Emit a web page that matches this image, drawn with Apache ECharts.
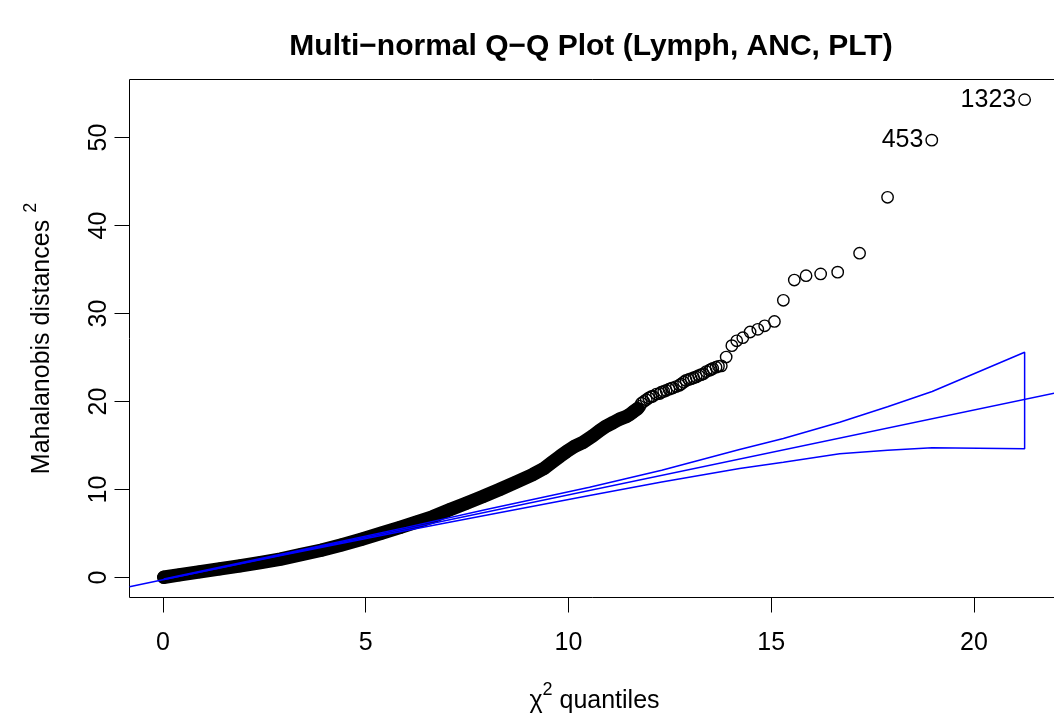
<!DOCTYPE html>
<html>
<head>
<meta charset="utf-8">
<title>Multi-normal Q-Q Plot</title>
<script src="https://cdn.jsdelivr.net/npm/echarts@6/dist/echarts.min.js"></script>
<style>
  html, body { margin: 0; padding: 0; background: #fff; }
  #chart { width: 1054px; height: 720px; }
</style>
</head>
<body>
<div id="chart"></div>
<script>
// sorted squared Mahalanobis distances vs chi-square quantiles
var qqX = [0.02, 0.4, 0.9, 1.4, 1.9, 2.4, 2.9, 3.4, 3.9, 4.4, 4.9, 5.4, 5.85, 6.25, 6.65, 7.07, 7.48, 7.89, 8.3, 8.71,
  9.12, 9.4, 9.6, 9.8, 9.95, 10.15, 10.36, 10.6, 10.77, 10.93, 11.1, 11.26, 11.43, 11.52, 11.59, 11.65, 11.71, 11.76, 11.8, 11.86,
  11.92, 11.98, 12.04, 12.08, 12.17, 12.25, 12.29, 12.35, 12.41, 12.48, 12.54, 12.57, 12.66, 12.74, 12.78, 12.84, 12.9, 12.97, 13.03, 13.09,
  13.15, 13.21, 13.27, 13.33, 13.4, 13.48, 13.52, 13.56, 13.64, 13.7, 13.77, 13.89, 14.03, 14.15, 14.3, 14.48, 14.67, 14.84, 15.08, 15.3,
  15.57, 15.86, 16.22, 16.64, 17.18, 17.87, 18.96, 21.25];
var qqY = [0.03, 0.3, 0.65, 0.98, 1.32, 1.7, 2.1, 2.6, 3.1, 3.7, 4.35, 5.05, 5.7, 6.3, 6.9, 7.7, 8.45, 9.2, 10.0, 10.85,
  11.7, 12.4, 13.1, 13.8, 14.3, 14.9, 15.35, 16.1, 16.7, 17.2, 17.6, 18.0, 18.3, 18.55, 18.8, 19.0, 19.2, 19.45, 19.8, 20.0,
  20.2, 20.4, 20.55, 20.6, 20.85, 20.9, 21.05, 21.15, 21.25, 21.4, 21.5, 21.55, 21.7, 21.85, 22.0, 22.2, 22.4, 22.5, 22.6, 22.7,
  22.8, 22.95, 23.05, 23.15, 23.4, 23.55, 23.65, 23.75, 23.9, 24.0, 24.05, 25.05, 26.35, 26.9, 27.25, 27.9, 28.2, 28.6, 29.1, 31.5,
  33.8, 34.3, 34.5, 34.7, 36.85, 43.2, 49.7, 54.3];
// observation ids printed next to the two largest distances
var outlierIds = { 86: '453', 87: '1323' };

// points are so dense below this quantile that they merge into a solid band
var denseLimit = 11.72;

// reference line (qqline) end points
var refX = [-0.824, 22.11];
var refY = [-1.04, 21.06];

// confidence envelope
var envX = [0.02, 3, 6, 8, 10.52, 12.3, 14.22, 15.3, 16.69, 17.87, 18.97, 21.25];
var envLow = [-0.24, 2.58, 5.35, 7.1, 9.32, 10.85, 12.39, 13.1, 14.06, 14.45, 14.74, 14.63];
var envUp = [-0.18, 2.72, 5.7, 7.75, 10.26, 12.2, 14.55, 15.8, 17.65, 19.4, 21.14, 25.6];

var xTicks = [0, 5, 10, 15, 20];
var yTicks = [0, 10, 20, 30, 40, 50];

var font = 'Liberation Sans, Arial, Helvetica, sans-serif';

var pts = qqX.map(function (x, i) {
  var item = { value: [x, qqY[i]] };
  if (outlierIds[i]) {
    item.name = outlierIds[i];
    item.label = { show: true };
  }
  return item;
});
var band = [];
qqX.forEach(function (x, i) {
  if (x <= denseLimit) band.push([x, qqY[i]]);
});
var envelope = [];
envX.forEach(function (x, i) { envelope.push([x, envLow[i]]); });
for (var i = envX.length - 1; i >= 0; i--) envelope.push([envX[i], envUp[i]]);

var chart = echarts.init(document.getElementById('chart'), null, { renderer: 'canvas' });

var option = {
  backgroundColor: '#fff',
  animation: false,
  title: {
    text: 'Multi\u2212normal Q\u2212Q Plot (Lymph, ANC, PLT)',
    left: 586,
    top: 27,
    textAlign: 'center',
    textStyle: { fontFamily: font, fontSize: 30, fontWeight: 'bold', color: '#000' }
  },
  grid: {
    left: 129.5, top: 79.5, width: 930, height: 518,
    show: true, borderColor: '#000', borderWidth: 1,
    outerBoundsMode: 'none'
  },
  xAxis: {
    type: 'value',
    min: -0.824, max: 22.11,
    name: '{a|\u03c7}{s|2}{a| quantiles}',
    nameLocation: 'middle',
    nameGap: 84,
    nameTextStyle: {
      fontFamily: font, color: '#000',
      rich: {
        a: { fontFamily: font, fontSize: 25, color: '#000', lineHeight: 32, verticalAlign: 'bottom' },
        s: { fontFamily: font, fontSize: 18, color: '#000', verticalAlign: 'top' }
      }
    },
    axisLine: { show: false, onZero: false },
    splitLine: { show: false },
    axisTick: { show: true, customValues: xTicks, length: 15, lineStyle: { color: '#000', width: 1 } },
    axisLabel: { customValues: xTicks, fontFamily: font, fontSize: 25, color: '#000', margin: 33 }
  },
  yAxis: {
    type: 'value',
    min: -2.27, max: 56.59,
    name: '{a|Mahalanobis distances }{s|2}',
    nameLocation: 'middle',
    nameRotate: 90,
    nameGap: 75,
    nameTextStyle: {
      fontFamily: font, color: '#000',
      rich: {
        a: { fontFamily: font, fontSize: 25, color: '#000', lineHeight: 32, verticalAlign: 'bottom' },
        s: { fontFamily: font, fontSize: 18, color: '#000', verticalAlign: 'top' }
      }
    },
    axisLine: { show: false, onZero: false },
    splitLine: { show: false },
    axisTick: { show: true, customValues: yTicks, length: 15, lineStyle: { color: '#000', width: 1 } },
    axisLabel: { customValues: yTicks, rotate: 90, fontFamily: font, fontSize: 25, color: '#000', margin: 18 }
  },
  series: [
    {
      name: 'dense band',
      type: 'line',
      data: band,
      symbol: 'none',
      silent: true,
      lineStyle: { color: '#000', width: 13.5, cap: 'round', join: 'round' },
      z: 2
    },
    {
      name: 'D2',
      type: 'scatter',
      data: pts,
      symbol: 'circle',
      symbolSize: 11.4,
      itemStyle: { color: 'rgba(0,0,0,0)', borderColor: '#000', borderWidth: 1.4, opacity: 1 },
      label: {
        show: false,
        position: 'left',
        distance: 2,
        formatter: '{b}',
        fontFamily: font, fontSize: 25, color: '#000'
      },
      z: 3
    },
    {
      name: 'qqline',
      type: 'line',
      data: refX.map(function (x, i) { return [x, refY[i]]; }),
      symbol: 'none',
      lineStyle: { color: '#0000ff', width: 1.5 },
      z: 4
    },
    {
      name: 'envelope',
      type: 'line',
      data: envelope,
      symbol: 'none',
      lineStyle: { color: '#0000ff', width: 1.5 },
      z: 4
    }
  ]
};

chart.setOption(option);
window.addEventListener('resize', chart.resize);
</script>
</body>
</html>
